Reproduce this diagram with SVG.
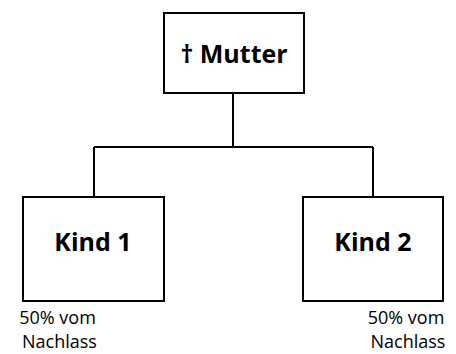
<svg xmlns="http://www.w3.org/2000/svg" width="456" height="354" viewBox="0 0 456 354">
<style>
.box{fill:#fff;stroke:#000;stroke-width:2}
.line{fill:none;stroke:#000;stroke-width:2}
.title{font-family:"Open Sans",sans-serif;font-weight:bold;font-size:25px;text-anchor:middle;fill:#000}
.note{font-family:"Open Sans",sans-serif;font-size:18px;text-anchor:middle;fill:#000}
</style>
<rect width="456" height="354" fill="#fff"/>
<g id="connectors">
<path class="line" d="M233 93V147M94 147H373M94 147V197M373 147V197"/>
</g>
<g id="mutter">
<rect class="box" x="164" y="13" width="140" height="80"/>
<text class="title" x="234" y="63">† Mutter</text>
</g>
<g id="kind1">
<rect class="box" x="23" y="197" width="141" height="104"/>
<text class="title" x="93" y="251">Kind 1</text>
<text class="note"><tspan x="57.5" y="323.5">50% vom</tspan><tspan x="59.5" y="348.3">Nachlass</tspan></text>
</g>
<g id="kind2">
<rect class="box" x="303" y="197" width="140" height="104"/>
<text class="title" x="373" y="251">Kind 2</text>
<text class="note"><tspan x="406" y="323.5">50% vom</tspan><tspan x="408" y="348.3">Nachlass</tspan></text>
</g>
</svg>
